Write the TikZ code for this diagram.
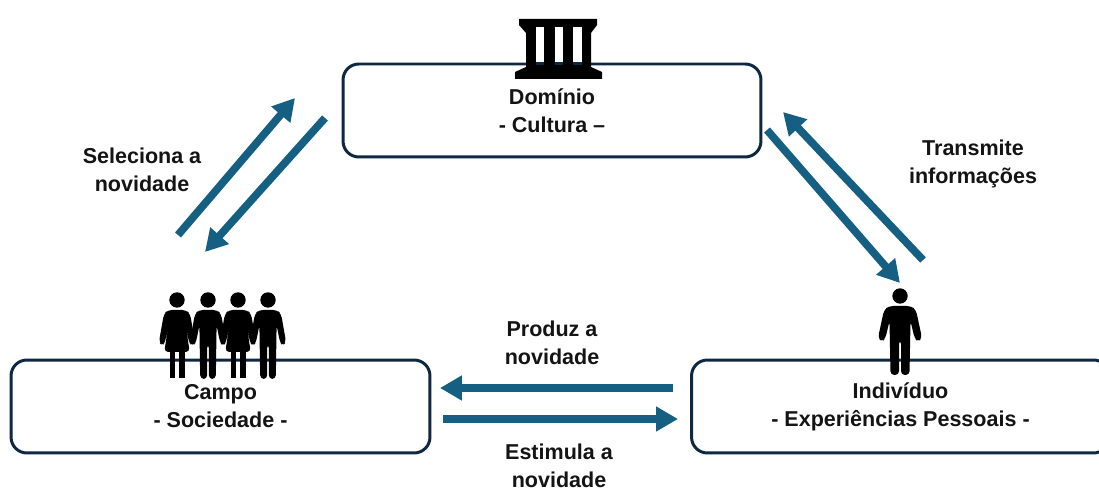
\documentclass[tikz,border=0pt]{standalone}
\usepackage{xcolor}
\usepackage{fontspec}
\setmainfont{Liberation Sans}
\usetikzlibrary{arrows.meta}
\definecolor{caixacor}{HTML}{0E2841}
\definecolor{setacor}{HTML}{156082}
\tikzset{
  caixa/.style={draw=caixacor,line width=1.7pt,rounded corners=9pt,minimum height=1.86cm,align=center,inner sep=0pt},
  rotulo/.style={align=center,inner sep=0pt},
  seta/.style={draw=setacor,line width=4.4pt,-{Triangle[length=12.5pt,width=13.5pt]}},
  every node/.append style={font=\fontsize{12.25}{15.9}\selectfont\bfseries,text=black!92},
  pics/homem/.style={code={
    \fill (0,0) circle (7.7);
    \fill[xscale=#1,rounded corners=2.2pt] (-11,-10) -- (11,-10) -- (16,-14) -- (22,-42) -- (18,-46) -- (14.5,-42) -- (10.5,-25) -- (9.5,-79) -- (1,-79) -- (1,-44) -- (-1,-44) -- (-1,-79) -- (-9.5,-79) -- (-10.5,-25) -- (-14.5,-42) -- (-18,-46) -- (-22,-42) -- (-16,-14) -- cycle;
  }},
  pics/homem/.default=1,
  pics/mulher/.style={code={
    \fill (0,0) circle (7.7);
    \fill[xscale=0.82,rounded corners=2.2pt] (-11,-10) -- (11,-10) -- (16,-14) -- (22,-42) -- (18,-46) -- (14.5,-42) -- (10.5,-25) -- (15.5,-52) -- (-15.5,-52) -- (-10.5,-25) -- (-14.5,-42) -- (-18,-46) -- (-22,-42) -- (-16,-14) -- cycle;
    \fill (-7.5,-50) rectangle (-2,-78);
    \fill (2,-50) rectangle (7.5,-78);
  }},
}
\begin{document}
\begin{tikzpicture}[x=0.02cm,y=0.02cm]
\useasboundingbox (0,0) rectangle (1099,-489);
% caixas
\node [caixa,minimum width=8.36cm] (dominio) at (552,-110.5) {Domínio\\- Cultura –};
\node [caixa,minimum width=8.38cm] (campo) at (220.5,-406.5) {Campo\\- Sociedade -};
\node [caixa,minimum width=8.36cm] (individuo) at (900.5,-406.5) {Indivíduo\\- Experiências Pessoais -};
% templo
\fill (519,-19) -- (597,-19) -- (597,-25) -- (591,-33) -- (591,-67) -- (602,-72) -- (602,-79) -- (515,-79) -- (515,-72) -- (526,-67) -- (526,-33) -- (519,-25) -- cycle;
\fill [white] (535.5,-27) rectangle (543.5,-62);
\fill [white] (554.5,-27) rectangle (562.5,-62);
\fill [white] (572.5,-27) rectangle (581.5,-62);
\fill [caixacor] (535.5,-62) rectangle (543.5,-65.5);
\fill [caixacor] (554.5,-62) rectangle (562.5,-65.5);
\fill [caixacor] (572.5,-62) rectangle (581.5,-65.5);
% pessoas
\pic at (177,-300) {mulher};
\pic at (208,-300) {homem=0.82};
\pic at (238,-300) {mulher};
\pic at (268,-300) {homem=0.82};
\pic at (900,-296) {homem};
% pontas das setas
\coordinate (sa) at (178,-235);
\coordinate (sb) at (295,-98);
\coordinate (sc) at (325,-118);
\coordinate (sd) at (205,-252);
\coordinate (ta) at (767,-130);
\coordinate (tb) at (900,-283);
\coordinate (tc) at (923,-260);
\coordinate (td) at (783,-112);
\coordinate (pa) at (673,-388);
\coordinate (pb) at (440,-388);
\coordinate (ea) at (443,-419);
\coordinate (eb) at (678,-419);
\draw [seta] (sa) -- (sb);
\draw [seta] (sc) -- (sd);
\draw [seta] (ta) -- (tb);
\draw [seta] (tc) -- (td);
\draw [seta] (pa) -- (pb);
\draw [seta] (ea) -- (eb);
% textos
\node [rotulo] (seleciona) at (142,-170) {Seleciona a\\novidade};
\node [rotulo] (transmite) at (973,-164) {Transmite\\informações};
\node [rotulo] (produz) at (552,-342.5) {Produz a\\novidade};
\node [rotulo] (estimula) at (559,-466) {Estimula a\\novidade};
\end{tikzpicture}
\end{document}
